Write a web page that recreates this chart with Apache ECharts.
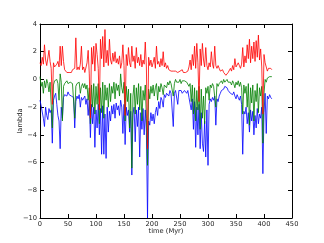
<!DOCTYPE html>
<html>
<head>
<meta charset="utf-8">
<script src="https://cdn.jsdelivr.net/npm/echarts@6/dist/echarts.min.js"></script>
<style>
html,body{margin:0;padding:0;background:#fff;}
#c{width:324px;height:243px;}
</style>
</head>
<body>
<div id="c"></div>
<script>
// time step 2 Myr, starting at 0
var timeStart = 0;
var timeStep = 2;

var lambdaRed = [
  1.2, 1.0, 1.6, 1.1, 2.5, 1.4, 1.0, 0.9, 2.1, 1.3,
  0.8, -1.8, 1.2, 0.9, 0.8, 1.1, 1.3, 0.9, 2.4, 1.0,
  2.4, 1.3, 0.7, 0.6, 0.5, 0.6, 0.5, 0.6, 0.5, 0.7,
  0.6, 0.8, 3.0, 0.7, 0.9, 0.7, 1.1, 2.4, 0.7, 0.9,
  0.5, 0.6, 1.2, 2.1, 0.4, -2.8, 2.3, 1.1, 2.4, 0.6,
  2.6, 1.8, 0.8, -2.2, 2.9, 1.5, 3.1, 0.9, 3.6, 1.2,
  2.1, 1.0, 2.9, 1.4, 1.1, 1.9, 1.3, 2.0, 1.2, 1.5,
  1.1, 1.7, 0.8, 1.2, 2.5, 1.0, -2.6, 1.8, 1.0, 2.3,
  1.2, 0.9, 2.4, 1.3, 1.7, 0.8, 2.3, 1.2, 1.6, 1.0,
  1.8, 0.9, 1.4, 1.1, 2.7, 0.9, -5.0, 1.6, 1.0, 1.4,
  0.9, 1.2, 1.6, 0.8, 2.4, 1.1, 1.3, 0.9, 1.5, 1.0,
  2.0, 0.9, 1.2, 0.8, 1.0, 0.7, 0.8, 0.6, 0.7, 0.6,
  0.5, 0.6, 0.7, 0.5, 0.4, 0.6, 0.5, 0.7, 0.5, 0.6,
  0.5, 0.4, 0.6, 0.9, 1.4, 0.7, 1.8, 1.0, 2.4, 0.8,
  2.6, 1.2, -1.6, 2.2, 1.0, 2.6, 1.4, 0.9, 2.3, 1.0,
  0.7, 1.2, 0.9, 2.0, 1.1, 0.8, 2.4, 1.0, 0.8, 1.0,
  0.8, 0.6, 0.5, 0.7, 0.5, 0.4, 0.3, 0.4, 0.5, 0.6,
  0.8, 0.6, 1.0, 0.7, 1.5, 0.9, 0.8, 1.2, 1.0, 0.8,
  1.1, 2.3, 0.9, 1.7, 1.2, 2.5, 1.5, 2.9, 1.2, 2.4,
  1.5, 2.7, 1.3, 2.8, 1.6, 3.2, 1.4, 2.2, 0.9, -2.5,
  1.8, 1.2, 0.9, 0.6, 0.8, 0.7, 0.8, 0.7
];

var lambdaGreen = [
  0.2, -0.5, -0.2, -1.0, -0.1, -0.6, 0.0, -0.3, -0.9, -0.2,
  -0.1, -3.5, -0.4, -0.1, -0.2, 0.0, -0.3, -1.5, 0.4, -0.2,
  -3.0, -0.5, -0.3, -0.2, -0.1, -0.3, -0.2, -0.2, -0.1, -0.3,
  -0.4, -2.8, -0.5, -0.3, -0.4, -0.2, -1.0, -0.5, -0.3, -0.6,
  -0.3, -0.7, -0.4, -1.5, -0.6, -3.2, -0.4, -2.0, -0.3, -2.5,
  -0.5, -1.8, -0.3, -3.2, -0.6, -2.4, -0.2, -2.8, -0.4, -1.5,
  -0.6, -2.0, -0.3, -1.6, -0.5, -1.0, -0.2, -1.4, -0.3, -0.8,
  -0.4, -1.2, 0.4, -0.6, -1.0, -0.2, -3.0, -0.5, -1.6, -0.7,
  -3.5, -1.0, -6.4, -1.2, -0.4, -2.5, -0.6, -1.8, -0.3, -2.2,
  -0.5, -3.0, -0.8, -1.5, -0.4, -2.8, -6.2, -0.7, -1.4, -0.5,
  -1.0, -0.4, -1.2, -0.6, -0.3, -1.5, -0.5, -0.9, -0.3, -0.6,
  -1.1, -0.4, -0.3, -0.6, -0.2, -0.4, -0.1, -0.3, -0.2, -1.2,
  -0.3, 0.0, -0.2, -0.1, -0.2, 0.0, -0.3, -0.1, -0.2, -0.1,
  0.0, -0.2, -0.1, -0.5, -0.3, -1.6, -0.4, -2.5, -0.6, -3.0,
  -0.8, -2.2, -0.5, -3.6, -0.7, -2.8, -1.2, -3.2, -0.6, -1.0,
  -0.5, -1.5, -0.4, -0.6, -0.3, -0.5, -0.4, -2.0, -0.3, -0.5,
  -0.3, -0.2, -0.1, -0.3, 0.0, -0.2, -0.1, 0.0, -0.2, -0.1,
  -0.2, -0.4, -0.1, -0.3, -0.6, -0.2, -0.4, -0.1, -0.5, -0.2,
  -0.6, -2.5, -0.4, -1.0, -0.5, -2.0, -0.3, -3.3, -0.6, -1.7,
  -0.4, -3.0, -0.8, -1.6, -0.3, -2.4, -0.6, -1.2, -0.5, -4.6,
  -1.0, 0.0, -0.2, 0.1, 0.0, 0.2, 0.1, 0.2
];

var lambdaBlue = [
  -1.5, -1.9, -1.8, -2.8, -3.4, -2.0, -2.6, -2.9, -2.1, -2.4,
  -2.2, -4.6, -1.5, -1.2, -1.0, -1.8, -2.6, -3.0, -5.0, -2.0,
  -2.8, -1.3, -1.1, -1.0, -1.2, -0.9, -1.1, -1.0, -1.2, -1.1,
  -1.3, -3.5, -1.6, -1.2, -1.4, -1.1, -2.0, -1.3, -1.5, -1.6,
  -1.2, -1.8, -1.4, -2.6, -1.5, -4.2, -1.8, -3.2, -2.0, -4.9,
  -2.2, -3.5, -1.8, -4.0, -2.1, -5.4, -1.9, -5.4, -2.5, -5.7,
  -2.0, -3.8, -2.3, -3.0, -1.9, -2.5, -1.8, -2.8, -1.7, -2.2,
  -1.9, -2.6, -1.5, -2.0, -3.9, -1.8, -4.7, -2.0, -2.6, -2.2,
  -3.8, -2.3, -6.9, -2.5, -2.0, -4.5, -2.2, -3.4, -2.0, -5.6,
  -2.4, -3.6, -2.1, -4.0, -2.2, -3.8, -10.0, -3.0, -3.3, -2.4,
  -3.0, -2.5, -3.2, -2.4, -2.0, -2.6, -1.6, -2.1, -1.3, -1.5,
  -2.0, -1.1, -1.3, -1.0, -0.9, -1.2, -0.8, -1.0, -0.9, -3.4,
  -1.0, -0.8, -0.9, -1.8, -0.8, -0.9, -0.8, -1.0, -0.9, -0.8,
  -0.9, -1.0, -0.8, -1.3, -1.2, -2.2, -1.4, -3.6, -1.6, -4.9,
  -2.0, -4.0, -1.8, -5.0, -2.4, -4.6, -5.2, -3.0, -5.6, -2.2,
  -6.2, -1.8, -1.4, -1.6, -1.3, -1.5, -1.2, -3.3, -1.4, -1.6,
  -1.2, -1.0, -0.8, -0.9, -0.7, -0.5, -0.4, -0.6, -0.8, -0.9,
  -1.0, -0.9, -1.1, -0.9, -1.2, -1.4, -1.1, -1.3, -1.5, -1.2,
  -1.8, -5.4, -2.3, -2.5, -2.0, -3.2, -2.4, -3.8, -2.2, -3.0,
  -2.3, -4.0, -2.6, -3.5, -2.1, -3.2, -2.5, -2.8, -2.0, -6.8,
  -2.4, -1.0, -3.9, -1.2, -1.4, -1.1, -1.3, -1.4
];

var xTicks = [0, 50, 100, 150, 200, 250, 300, 350, 400, 450];
var yTicks = [-10, -8, -6, -4, -2, 0, 2, 4];

function pairs(arr) {
  return arr.map(function (v, i) { return [timeStart + i * timeStep, v]; });
}
function fmt(v) { return String(v).replace('-', '\u2212'); }

var font = 'DejaVu Sans';
var textColor = '#222';
var axisLine = { show: true, onZero: false, lineStyle: { color: '#000', width: 1 } };
var tick = { show: true, inside: true, length: 4, lineStyle: { color: '#000', width: 1 } };

var chart = echarts.init(document.getElementById('c'), null, { renderer: 'canvas' });
chart.setOption({
  animation: false,
  backgroundColor: '#fff',
  grid: { left: 40, right: 32, top: 24, bottom: 25, containLabel: false },
  xAxis: [{
    type: 'value', min: xTicks[0], max: xTicks[xTicks.length - 1], interval: 50,
    position: 'bottom',
    name: 'time (Myr)', nameLocation: 'middle', nameGap: 10, nameMoveOverlap: false,
    nameTextStyle: { fontFamily: font, fontSize: 6.7, color: textColor },
    axisLine: axisLine, axisTick: tick,
    axisLabel: { fontFamily: font, fontSize: 6.7, color: textColor, margin: 3, formatter: fmt },
    splitLine: { show: false }
  }, {
    type: 'value', min: xTicks[0], max: xTicks[xTicks.length - 1], interval: 50,
    position: 'top',
    axisLine: axisLine, axisTick: tick,
    axisLabel: { show: false }, splitLine: { show: false }
  }],
  yAxis: [{
    type: 'value', min: yTicks[0], max: yTicks[yTicks.length - 1], interval: 2,
    position: 'left',
    name: 'lambda', nameLocation: 'middle', nameGap: 16, nameRotate: 90, nameMoveOverlap: false,
    nameTextStyle: { fontFamily: font, fontSize: 6.7, color: textColor },
    axisLine: axisLine, axisTick: tick,
    axisLabel: { fontFamily: font, fontSize: 6.7, color: textColor, margin: 3, formatter: fmt },
    splitLine: { show: false }
  }, {
    type: 'value', min: yTicks[0], max: yTicks[yTicks.length - 1], interval: 2,
    position: 'right',
    axisLine: axisLine, axisTick: tick,
    axisLabel: { show: false }, splitLine: { show: false }
  }],
  series: [
    { type: 'line', name: 'blue', data: pairs(lambdaBlue), showSymbol: false, symbol: 'none',
      lineStyle: { color: '#0000ff', width: 1, opacity: 0.8 }, z: 2 },
    { type: 'line', name: 'green', data: pairs(lambdaGreen), showSymbol: false, symbol: 'none',
      lineStyle: { color: '#008000', width: 1, opacity: 0.8 }, z: 3 },
    { type: 'line', name: 'red', data: pairs(lambdaRed), showSymbol: false, symbol: 'none',
      lineStyle: { color: '#ff0000', width: 1, opacity: 0.8 }, z: 4 }
  ]
});
</script>
</body>
</html>
